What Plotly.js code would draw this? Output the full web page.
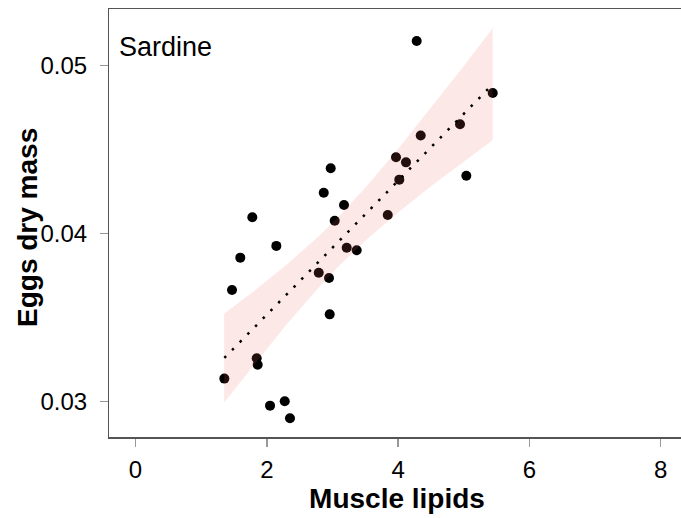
<!DOCTYPE html>
<html>
<head>
<meta charset="utf-8">
<script src="https://cdn.plot.ly/plotly-3.0.1.min.js"></script>
<style>
html,body{margin:0;padding:0;overflow:hidden;background:#fff;}
#chart{width:685px;height:518px;}
</style>
</head>
<body>
<div id="chart"></div>
<script>
// Observed data: muscle lipids vs eggs dry mass (Sardine)
var lipids = [1.353,1.470,1.596,1.779,1.846,1.861,2.049,2.145,2.273,2.353,2.791,2.947,2.958,2.867,2.973,3.034,3.176,3.217,3.369,3.842,3.968,4.018,4.120,4.344,4.283,4.943,5.039,5.441];
var eggMass = [0.03135,0.03663,0.03856,0.04097,0.03256,0.03218,0.02974,0.03926,0.03000,0.02899,0.03766,0.03735,0.03518,0.04243,0.04389,0.04076,0.04170,0.03915,0.03900,0.04110,0.04454,0.04321,0.04424,0.04584,0.05147,0.04651,0.04344,0.04837];

// Fitted line
var fitX = [1.353,5.441];
var fitY = [0.03258,0.04889];

// Confidence band
var bandX = [1.35,1.8,2.3,2.8,3.1,3.5,4.0,4.5,5.0,5.44];
var bandUpper = [0.03521,0.03655,0.03814,0.03987,0.04103,0.04273,0.04503,0.04747,0.04998,0.05223];
var bandLower = [0.02993,0.03217,0.03458,0.03683,0.03807,0.03957,0.04125,0.04281,0.04428,0.04555];

var xTicks = [0,2,4,6,8];
var yTicks = [0.03,0.04,0.05];
var yTickText = ['0.03','0.04','0.05'];

var polyX = bandX.concat(bandX.slice().reverse());
var polyY = bandUpper.concat(bandLower.slice().reverse());

var traces = [
  {x: lipids, y: eggMass, type:'scatter', mode:'markers',
   marker:{color:'#000000', size:10, line:{width:0}}, hoverinfo:'skip'},
  {x: polyX, y: polyY, type:'scatter', mode:'lines', fill:'toself',
   fillcolor:'rgba(240,100,100,0.15)', line:{width:0}, hoverinfo:'skip'},
  {x: fitX, y: fitY, type:'scatter', mode:'lines',
   line:{color:'#000000', width:2.5, dash:'2.5px,8.5px'}, hoverinfo:'skip'}
];

var font = 'Liberation Sans, Arial, sans-serif';
var layout = {
  width:685, height:518,
  margin:{l:109, r:0, t:9, b:81},
  paper_bgcolor:'#ffffff', plot_bgcolor:'#ffffff',
  showlegend:false,
  font:{family:font, color:'#000'},
  xaxis:{
    range:[-0.404,8.370], tickvals:xTicks, ticktext:xTicks.map(String),
    showgrid:false, zeroline:false,
    showline:true, mirror:true, linecolor:'#555', linewidth:1.5,
    ticks:'outside', ticklen:8, tickwidth:1.5, tickcolor:'#999',
    tickfont:{family:font, size:24, color:'#000'},
    ticklabelstandoff:3,
    title:{text:'Muscle lipids', font:{family:font, size:28, color:'#000', weight:'bold'}, standoff:6},
    automargin:false
  },
  yaxis:{
    range:[0.02787,0.05338], tickvals:yTicks, ticktext:yTickText,
    showgrid:false, zeroline:false,
    showline:true, mirror:true, linecolor:'#555', linewidth:1.5,
    ticks:'outside', ticklen:7.5, tickwidth:1.5, tickcolor:'#999',
    tickfont:{family:font, size:24, color:'#000'},
    ticklabelstandoff:8,
    automargin:false
  },
  annotations:[{
    text:'Sardine', xref:'paper', yref:'paper', x:(117-109)/576, y:(437-47)/428,
    xanchor:'left', yanchor:'middle', showarrow:false,
    font:{family:font, size:27, color:'#000'}
  },{
    text:'<b>Eggs dry mass</b>', xref:'paper', yref:'paper', x:(27-109)/576, y:(437-228)/428,
    xanchor:'center', yanchor:'middle', textangle:-90, showarrow:false,
    font:{family:font, size:28, color:'#000'}
  }]
};

Plotly.newPlot('chart', traces, layout, {displayModeBar:false, staticPlot:true});
</script>
</body>
</html>
